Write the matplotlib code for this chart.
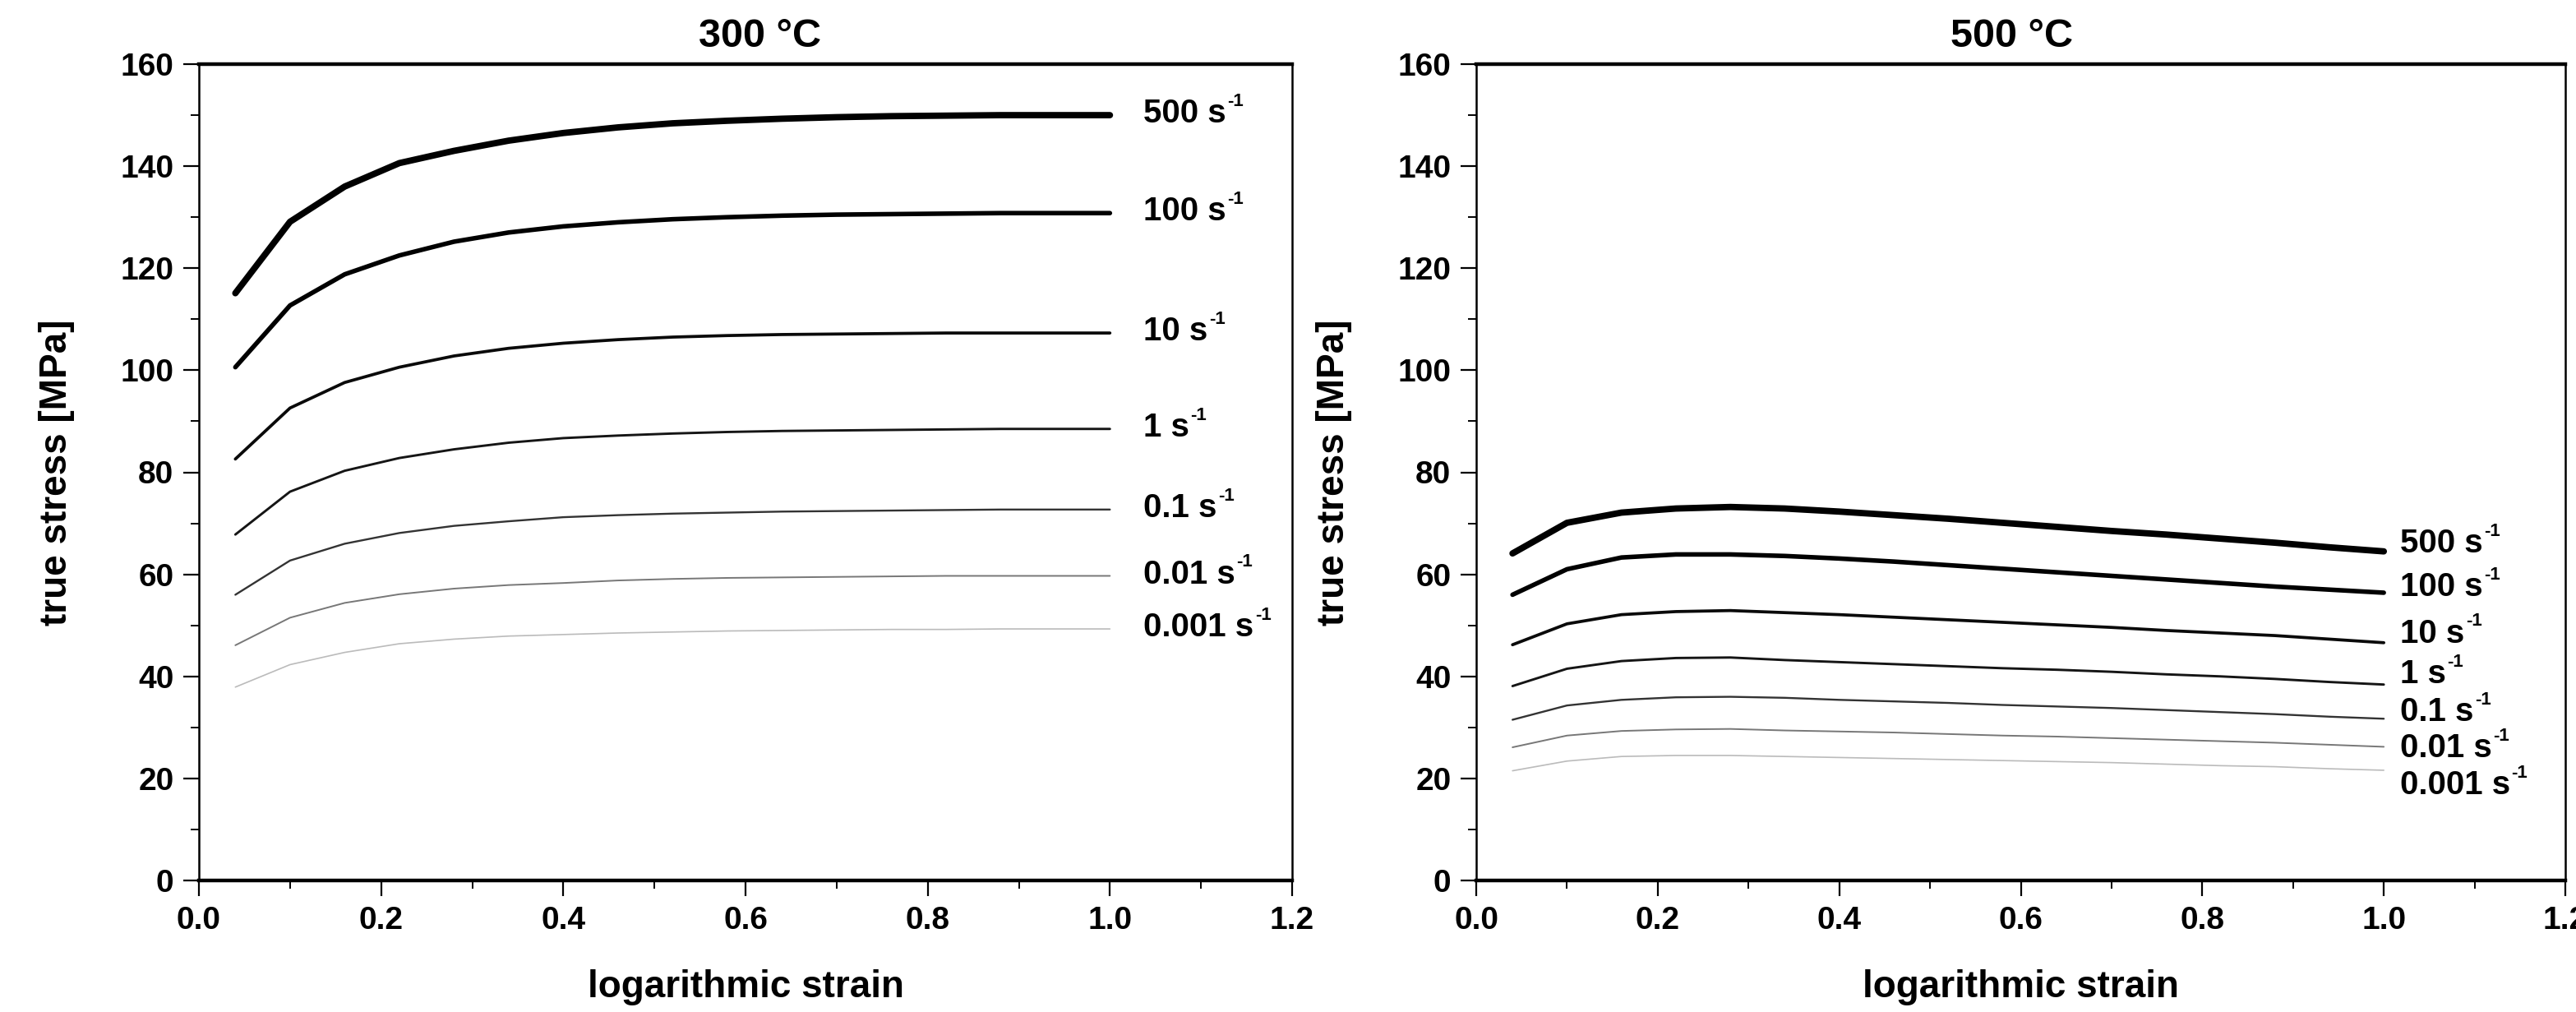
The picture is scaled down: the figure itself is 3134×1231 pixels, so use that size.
import matplotlib.pyplot as plt
from matplotlib.ticker import MultipleLocator, FormatStrFormatter

plt.rcParams['font.family'] = ['Liberation Sans', 'DejaVu Sans']
plt.rcParams['font.weight'] = 'bold'

# logarithmic strain (same grid for all curves)
strain = [0.04, 0.10, 0.16, 0.22, 0.28, 0.34, 0.40, 0.46, 0.52,
          0.58, 0.64, 0.70, 0.76, 0.82, 0.88, 0.94, 1.00]
rates = ['500', '100', '10', '1', '0.1', '0.01', '0.001']

# 300 °C
t300_500 = [115.1, 129.1, 136.0, 140.6, 143.0, 145.0, 146.5, 147.6, 148.4,
            148.9, 149.3, 149.6, 149.8, 149.9, 150.0, 150.0, 150.0]
t300_100 = [100.6, 112.7, 118.8, 122.5, 125.2, 127.0, 128.2, 129.0, 129.6,
            130.0, 130.3, 130.5, 130.6, 130.7, 130.8, 130.8, 130.8]
t300_10 = [82.6, 92.6, 97.6, 100.6, 102.8, 104.3, 105.3, 106.0, 106.5,
           106.8, 107.0, 107.1, 107.2, 107.3, 107.3, 107.3, 107.3]
t300_1 = [67.8, 76.2, 80.3, 82.8, 84.5, 85.8, 86.7, 87.2, 87.6,
          87.9, 88.1, 88.2, 88.3, 88.4, 88.5, 88.5, 88.5]
t300_01 = [56.0, 62.7, 66.0, 68.1, 69.5, 70.4, 71.2, 71.6, 71.9,
           72.1, 72.3, 72.4, 72.5, 72.6, 72.7, 72.7, 72.7]
t300_001 = [46.1, 51.5, 54.4, 56.1, 57.2, 57.9, 58.3, 58.8, 59.1,
            59.3, 59.4, 59.5, 59.6, 59.7, 59.7, 59.7, 59.7]
t300_0001 = [37.9, 42.3, 44.7, 46.4, 47.3, 47.9, 48.2, 48.5, 48.7,
             48.9, 49.0, 49.1, 49.2, 49.2, 49.3, 49.3, 49.3]

# 500 °C
t500_500 = [64.1, 70.1, 72.1, 72.9, 73.2, 72.9, 72.3, 71.6, 70.9,
            70.1, 69.3, 68.5, 67.8, 67.0, 66.2, 65.3, 64.5]
t500_100 = [56.0, 61.0, 63.3, 63.9, 63.9, 63.6, 63.1, 62.5, 61.8,
            61.1, 60.4, 59.7, 59.0, 58.3, 57.6, 57.0, 56.4]
t500_10 = [46.2, 50.3, 52.1, 52.7, 52.9, 52.5, 52.1, 51.6, 51.1,
           50.6, 50.1, 49.6, 49.0, 48.5, 48.0, 47.3, 46.6]
t500_1 = [38.1, 41.5, 43.0, 43.6, 43.7, 43.2, 42.8, 42.4, 42.0,
          41.6, 41.3, 40.9, 40.4, 40.0, 39.5, 38.9, 38.4]
t500_01 = [31.5, 34.3, 35.4, 35.9, 36.0, 35.8, 35.4, 35.1, 34.8,
           34.4, 34.1, 33.8, 33.4, 33.0, 32.6, 32.1, 31.7]
t500_001 = [26.1, 28.4, 29.3, 29.6, 29.7, 29.4, 29.2, 29.0, 28.7,
            28.4, 28.2, 27.9, 27.6, 27.3, 27.0, 26.6, 26.2]
t500_0001 = [21.5, 23.4, 24.3, 24.5, 24.5, 24.3, 24.1, 23.9, 23.7,
             23.5, 23.3, 23.1, 22.8, 22.5, 22.3, 21.9, 21.6]

curves_300 = [t300_500, t300_100, t300_10, t300_1, t300_01, t300_001, t300_0001]
curves_500 = [t500_500, t500_100, t500_10, t500_1, t500_01, t500_001, t500_0001]

widths = [5.6, 4.0, 2.7, 2.1, 1.7, 1.4, 1.2]
colors = ['black', 'black', '#0a0a0a', '#151515', '#333333', '#777777', '#bbbbbb']

fig = plt.figure(figsize=(31.34, 12.31), dpi=100)
W, H = 3134, 1231
ax1 = fig.add_axes([242 / W, 1 - 1071 / H, 1330 / W, 993 / H])
ax2 = fig.add_axes([1796 / W, 1 - 1071 / H, 1325 / W, 993 / H])


def label(ax, x, y, rate):
    t = ax.text(x, y, rate + ' s', fontsize=29, fontweight='bold',
                ha='left', va='center')
    ax.annotate('-1', xy=(1, 1), xycoords=t, xytext=(1, -7),
                textcoords='offset points', fontsize=16, fontweight='bold',
                ha='left', va='baseline')


def style(ax, title, tx):
    ax.set_xlim(0, 1.2)
    ax.set_ylim(0, 160)
    ax.xaxis.set_major_locator(MultipleLocator(0.2))
    ax.xaxis.set_minor_locator(MultipleLocator(0.1))
    ax.yaxis.set_major_locator(MultipleLocator(20))
    ax.yaxis.set_minor_locator(MultipleLocator(10))
    ax.xaxis.set_major_formatter(FormatStrFormatter('%.1f'))
    ax.tick_params(which='major', direction='out', length=14, width=1.6,
                   labelsize=28, pad=8)
    ax.tick_params(which='minor', direction='out', length=7, width=1.4)
    for lab in ax.get_xticklabels() + ax.get_yticklabels():
        lab.set_fontweight('bold')
    ax.spines['top'].set_linewidth(3.2)
    ax.spines['bottom'].set_linewidth(3.2)
    ax.spines['left'].set_linewidth(1.8)
    ax.spines['right'].set_linewidth(1.8)
    ax.set_xlabel('logarithmic strain', fontsize=33, fontweight='bold', labelpad=30)
    ax.set_ylabel('true stress [MPa]', fontsize=33, fontweight='bold', labelpad=40)
    ax.set_title(title, fontsize=35, fontweight='bold', pad=15, x=tx)


for ys, lw, c in zip(curves_300, widths, colors):
    ax1.plot(strain, ys, color=c, lw=lw, solid_capstyle='round', solid_joinstyle='round')
for ys, lw, c in zip(curves_500, widths, colors):
    ax2.plot(strain, ys, color=c, lw=lw, solid_capstyle='round', solid_joinstyle='round')

# rate labels
for ys, r in zip(curves_300, rates):
    label(ax1, 1.037, ys[-1] + 0.3, r)
label_y_500 = [66.0, 57.5, 48.4, 40.4, 33.0, 25.9, 18.7]
for ly, r in zip(label_y_500, rates):
    label(ax2, 1.018, ly, r)

style(ax1, '300 °C', 0.513)
style(ax2, '500 °C', 0.492)

fig.savefig('out.png', dpi=100)
